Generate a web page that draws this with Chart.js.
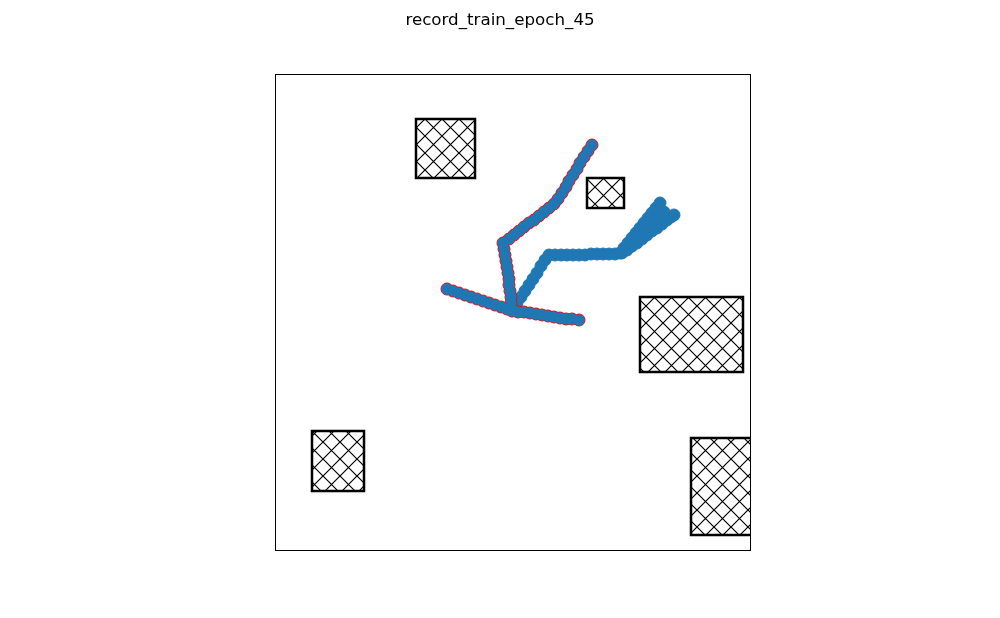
<!DOCTYPE html>
<html>
<head>
<meta charset="utf-8">
<title>record_train_epoch_45</title>
<script src="https://cdn.jsdelivr.net/npm/chart.js@4.4.1/dist/chart.umd.min.js"></script>
<style>
    html, body { margin: 0; padding: 0; background: #ffffff; }
    #myChart { display: block; }
</style>
</head>
<body>
<canvas id="myChart" width="1000" height="618"></canvas>
<script>
var chart_title = 'record_train_epoch_45';

// 座標範圍（x 0~475, y 0~476）
var x_range = [0, 475];
var y_range = [0, 476];

// 障礙物 [x0, y0, x1, y1]
var obstacles = [
    [141, 372, 200, 431],
    [312, 342, 349, 372],
    [365, 178, 468, 253],
    [37, 59, 89, 119],
    [416, 15, 485, 112]
];

// 紅邊軌跡（上方）
var path_up_x = [317, 313, 309, 305, 302, 298, 294, 291, 287, 283, 279, 274, 269, 264, 259, 254, 249, 244, 239, 234, 228,
                 229, 230, 231, 232, 233, 234, 234, 235, 236, 236, 237];
var path_up_y = [405, 399, 393, 387, 381, 375, 369, 363, 357, 351, 346, 342, 338, 334, 330, 327, 323, 319, 315, 311, 307,
                 301, 295, 289, 283, 277, 271, 265, 259, 253, 247, 241];

// 紅邊軌跡（左方）
var path_left_x = [172, 178, 184, 190, 196, 202, 208, 214, 220, 226, 232, 237];
var path_left_y = [261, 259, 257, 255, 253, 251, 249, 247, 245, 243, 241, 239];

// 紅邊軌跡（右方）
var path_right_x = [243, 249, 255, 261, 267, 273, 279, 285, 291, 297, 304];
var path_right_y = [238, 238, 237, 236, 235, 234, 233, 232, 231, 231, 230];

// 藍色軌跡
var blue_a_x = [242, 246, 250, 254, 258, 262, 266, 270, 274, 280, 286, 292, 298, 304, 310, 316, 322, 328, 334, 340, 345,
                349, 353, 357, 361, 365, 369, 373, 377, 381, 385];
var blue_a_y = [247, 253, 259, 265, 271, 277, 284, 290, 295, 295, 295, 295, 295, 295, 295, 296, 296, 296, 296, 296, 297,
                302, 307, 312, 317, 322, 327, 332, 337, 342, 347];
var blue_b_x = [347, 352, 357, 362, 367, 372, 377, 382, 387, 392, 396, 399];
var blue_b_y = [297, 300, 304, 307, 311, 315, 319, 322, 326, 330, 333, 335];
var blue_c_x = [355, 360, 365, 370, 375, 380, 385, 389];
var blue_c_y = [303, 309, 314, 319, 324, 329, 334, 338];

function toPoints(xs, ys) {
    var pts = [];
    for (var i = 0; i < xs.length; i++) {
        pts.push({ x: xs[i], y: ys[i] });
    }
    return pts;
}

// 交叉斜線圖樣
function makeHatch() {
    var s = 17;
    var c = document.createElement('canvas');
    c.width = s;
    c.height = s;
    var g = c.getContext('2d');
    g.strokeStyle = '#000000';
    g.lineWidth = 1.2;
    g.beginPath();
    g.moveTo(-1, -1); g.lineTo(s + 1, s + 1);
    g.moveTo(s + 1, -1); g.lineTo(-1, s + 1);
    g.stroke();
    return g.createPattern(c, 'repeat');
}

var obstaclePlugin = {
    id: 'obstacles',
    beforeDatasetsDraw: function (chart) {
        var ctx = chart.ctx;
        var area = chart.chartArea;
        var xs = chart.scales.x;
        var ys = chart.scales.y;
        var hatch = makeHatch();
        ctx.save();
        ctx.beginPath();
        ctx.rect(area.left, area.top, area.right - area.left, area.bottom - area.top);
        ctx.clip();
        obstacles.forEach(function (r) {
            var x0 = xs.getPixelForValue(r[0]);
            var x1 = xs.getPixelForValue(r[2]);
            var y0 = ys.getPixelForValue(r[3]);
            var y1 = ys.getPixelForValue(r[1]);
            ctx.fillStyle = hatch;
            ctx.fillRect(x0, y0, x1 - x0, y1 - y0);
            ctx.lineWidth = 2.5;
            ctx.strokeStyle = '#000000';
            ctx.lineJoin = 'miter';
            ctx.strokeRect(x0, y0, x1 - x0, y1 - y0);
        });
        ctx.restore();
    },
    afterDraw: function (chart) {
        var ctx = chart.ctx;
        var area = chart.chartArea;
        ctx.save();
        // 外框
        ctx.strokeStyle = '#000000';
        ctx.lineWidth = 1;
        ctx.strokeRect(Math.round(area.left) + 0.5, Math.round(area.top) + 0.5,
                       Math.round(area.right - area.left), Math.round(area.bottom - area.top));
        // 標題
        ctx.fillStyle = '#000000';
        ctx.font = '16.7px "DejaVu Sans"';
        ctx.textAlign = 'center';
        ctx.textBaseline = 'alphabetic';
        ctx.fillText(chart_title, 500, 25);
        ctx.restore();
    }
};

// 紅邊：先畫紅框，再用藍色填滿蓋住內部的紅線
function redSet(xs, ys) {
    return {
        data: toPoints(xs, ys),
        backgroundColor: '#1f77b4',
        borderColor: '#ff0000',
        borderWidth: 1,
        pointRadius: 6,
        order: 1
    };
}

function redFill(xs, ys) {
    return {
        data: toPoints(xs, ys),
        backgroundColor: '#1f77b4',
        borderWidth: 0,
        pointRadius: 5.5,
        order: 0
    };
}

function blueSet(xs, ys) {
    return {
        data: toPoints(xs, ys),
        backgroundColor: '#1f77b4',
        borderColor: '#1f77b4',
        borderWidth: 1,
        pointRadius: 6,
        order: 2
    };
}

const ctx = document.getElementById('myChart');
const myScatter = new Chart(ctx, {
    type: 'scatter',
    data: {
        datasets: [
            blueSet(blue_b_x, blue_b_y),
            blueSet(blue_c_x, blue_c_y),
            blueSet(blue_a_x, blue_a_y),
            redSet(path_left_x, path_left_y),
            redSet(path_right_x, path_right_y),
            redSet(path_up_x, path_up_y),
            redFill(path_left_x, path_left_y),
            redFill(path_right_x, path_right_y),
            redFill(path_up_x, path_up_y)
        ]
    },
    options: {
        responsive: false,
        animation: false,
        devicePixelRatio: 1,
        layout: {
            padding: { left: 275, right: 250, top: 74, bottom: 68 }
        },
        scales: {
            x: { type: 'linear', min: x_range[0], max: x_range[1], display: false },
            y: { type: 'linear', min: y_range[0], max: y_range[1], display: false }
        },
        plugins: {
            legend: { display: false },
            tooltip: { enabled: false },
            title: { display: false }
        }
    },
    plugins: [obstaclePlugin]
});
</script>
</body>
</html>
